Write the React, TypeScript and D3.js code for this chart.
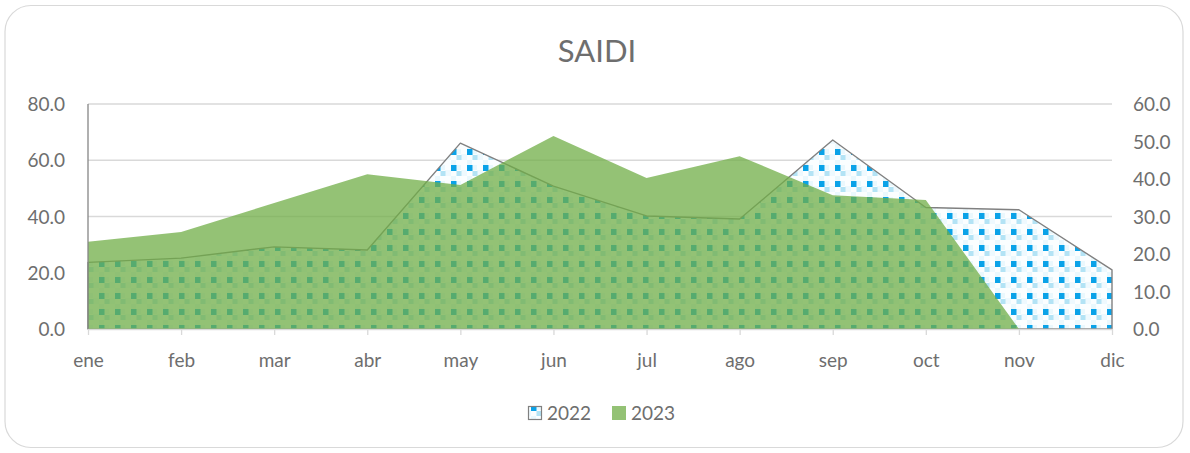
import * as d3 from "d3";
import { useEffect, useRef } from "react";

const MONTHS = ["ene", "feb", "mar", "abr", "may", "jun", "jul", "ago", "sep", "oct", "nov", "dic"];
// 2022 on the primary (left) axis
const SAIDI_2022 = [23.7, 25.2, 29.2, 28.1, 66.1, 50.8, 40.2, 39.1, 67.2, 43.2, 42.4, 21.0];
// 2023 on the secondary (right) axis, no data for dic
const SAIDI_2023: (number | null)[] = [23.3, 25.9, 33.6, 41.3, 38.4, 51.5, 40.3, 46.1, 35.7, 34.4, 0, null];
const LEFT_TICKS = [0, 20, 40, 60, 80];
const RIGHT_TICKS = [0, 10, 20, 30, 40, 50, 60];
const SERIES_NAMES = ["2022", "2023"];

const W = 1190;
const H = 453;
const FONT = "Lato, 'Open Sans', sans-serif";
const TEXT = "#6e6e6e";

const drawChart = (svgEl: SVGSVGElement) => {
  const svg = d3.select(svgEl);
  svg.selectAll("*").remove();

  const plot = { left: 88, right: 1112, top: 104, bottom: 329 };

  const x = d3.scalePoint<string>().domain(MONTHS).range([plot.left, plot.right]);
  const yLeft = d3.scaleLinear().domain([0, 80]).range([plot.bottom, plot.top]);
  const yRight = d3.scaleLinear().domain([0, 60]).range([plot.bottom, plot.top]);

  const defs = svg.append("defs");
  const pat = defs
    .append("pattern")
    .attr("id", "dots2022")
    .attr("patternUnits", "userSpaceOnUse")
    .attr("width", 16)
    .attr("height", 16)
    .attr("patternTransform", "translate(3,5)");
  pat.append("rect").attr("width", 16).attr("height", 16).attr("fill", "#fbfeff");
  pat.append("rect").attr("x", 5).attr("y", 0).attr("width", 5).attr("height", 5).attr("fill", "#eaf8fd");
  pat.append("rect").attr("x", 0).attr("y", 11).attr("width", 5).attr("height", 5).attr("fill", "#eaf8fd");
  pat.append("rect").attr("x", 10).attr("y", 5).attr("width", 6).attr("height", 6).attr("fill", "#eef9fe");
  pat.append("rect").attr("x", 0).attr("y", 0).attr("width", 5.5).attr("height", 6).attr("fill", "#0aa2e8");
  pat.append("rect").attr("x", 5.5).attr("y", 6).attr("width", 5).attr("height", 5).attr("fill", "#b3e3f5");

  // outer frame
  svg
    .append("rect")
    .attr("x", 5)
    .attr("y", 5.5)
    .attr("width", 1178)
    .attr("height", 442)
    .attr("rx", 26)
    .attr("fill", "white")
    .attr("stroke", "#d9d9d9")
    .attr("stroke-width", 1.2);

  svg
    .append("text")
    .attr("x", 597)
    .attr("y", 62)
    .attr("text-anchor", "middle")
    .attr("font-family", FONT)
    .attr("font-size", 31)
    .attr("fill", TEXT)
    .text("SAIDI");

  // gridlines
  svg
    .append("g")
    .selectAll("line")
    .data(LEFT_TICKS.filter((t) => t > 0))
    .join("line")
    .attr("x1", plot.left)
    .attr("x2", plot.right)
    .attr("y1", (d) => yLeft(d))
    .attr("y2", (d) => yLeft(d))
    .attr("stroke", "#d9d9d9")
    .attr("stroke-width", 1.3);

  // 2022 area with pattern
  const area2022 = d3
    .area<number>()
    .x((_, i) => x(MONTHS[i]) ?? 0)
    .y0(plot.bottom)
    .y1((d) => yLeft(d));
  svg
    .append("path")
    .datum(SAIDI_2022)
    .attr("d", area2022)
    .attr("fill", "url(#dots2022)")
    .attr("stroke", "#808080")
    .attr("stroke-width", 1.4)
    .attr("stroke-linejoin", "round");

  // 2023 area
  const area2023 = d3
    .area<number | null>()
    .defined((d) => d !== null)
    .x((_, i) => x(MONTHS[i]) ?? 0)
    .y0(plot.bottom)
    .y1((d) => yRight(d as number));
  svg
    .append("path")
    .datum(SAIDI_2023)
    .attr("d", area2023)
    .attr("fill", "#70ad47")
    .attr("fill-opacity", 0.75);

  // left axis line
  svg
    .append("line")
    .attr("x1", plot.left)
    .attr("x2", plot.left)
    .attr("y1", plot.top)
    .attr("y2", plot.bottom)
    .attr("stroke", "#868686")
    .attr("stroke-width", 1.3);

  // category axis
  const xAxis = svg
    .append("g")
    .attr("transform", `translate(0,${plot.bottom})`)
    .call(d3.axisBottom(x).tickSize(6).tickSizeOuter(0));
  xAxis.select(".domain").attr("stroke", "#d9d9d9").attr("stroke-width", 1.3);
  xAxis.selectAll(".tick line").attr("stroke", "#d9d9d9").attr("stroke-width", 1.3);
  xAxis
    .selectAll(".tick text")
    .attr("y", 0)
    .attr("dy", 38)
    .attr("font-family", FONT)
    .attr("font-size", 19)
    .attr("fill", TEXT);

  // left tick labels
  svg
    .append("g")
    .selectAll("text")
    .data(LEFT_TICKS)
    .join("text")
    .attr("x", 65)
    .attr("y", (d) => yLeft(d) + 7)
    .attr("text-anchor", "end")
    .attr("font-family", FONT)
    .attr("font-size", 19)
    .attr("fill", TEXT)
    .text((d) => d3.format(".1f")(d));

  // right tick labels
  svg
    .append("g")
    .selectAll("text")
    .data(RIGHT_TICKS)
    .join("text")
    .attr("x", 1133)
    .attr("y", (d) => yRight(d) + 7)
    .attr("text-anchor", "start")
    .attr("font-family", FONT)
    .attr("font-size", 19)
    .attr("fill", TEXT)
    .text((d) => d3.format(".1f")(d));

  // legend
  const legend = svg.append("g");
  legend
    .append("rect")
    .attr("x", 528.5)
    .attr("y", 406.5)
    .attr("width", 13)
    .attr("height", 13)
    .attr("fill", "url(#dots2022)")
    .attr("stroke", "#808080")
    .attr("stroke-width", 1.2);
  legend
    .append("text")
    .attr("x", 547)
    .attr("y", 420)
    .attr("font-family", FONT)
    .attr("font-size", 19)
    .attr("fill", TEXT)
    .text(SERIES_NAMES[0]);
  legend
    .append("rect")
    .attr("x", 612)
    .attr("y", 406)
    .attr("width", 14)
    .attr("height", 14)
    .attr("fill", "#70ad47")
    .attr("fill-opacity", 0.75);
  legend
    .append("text")
    .attr("x", 631)
    .attr("y", 420)
    .attr("font-family", FONT)
    .attr("font-size", 19)
    .attr("fill", TEXT)
    .text(SERIES_NAMES[1]);
};

const App = () => {
  const svgRef = useRef<SVGSVGElement | null>(null);

  useEffect(() => {
    if (svgRef.current) drawChart(svgRef.current);
  }, []);

  return (
    <div style={{ position: "absolute", left: 0, top: 0, width: W, height: H, background: "white" }}>
      <svg ref={svgRef} width={W} height={H} style={{ display: "block" }} />
    </div>
  );
};

export default App;
